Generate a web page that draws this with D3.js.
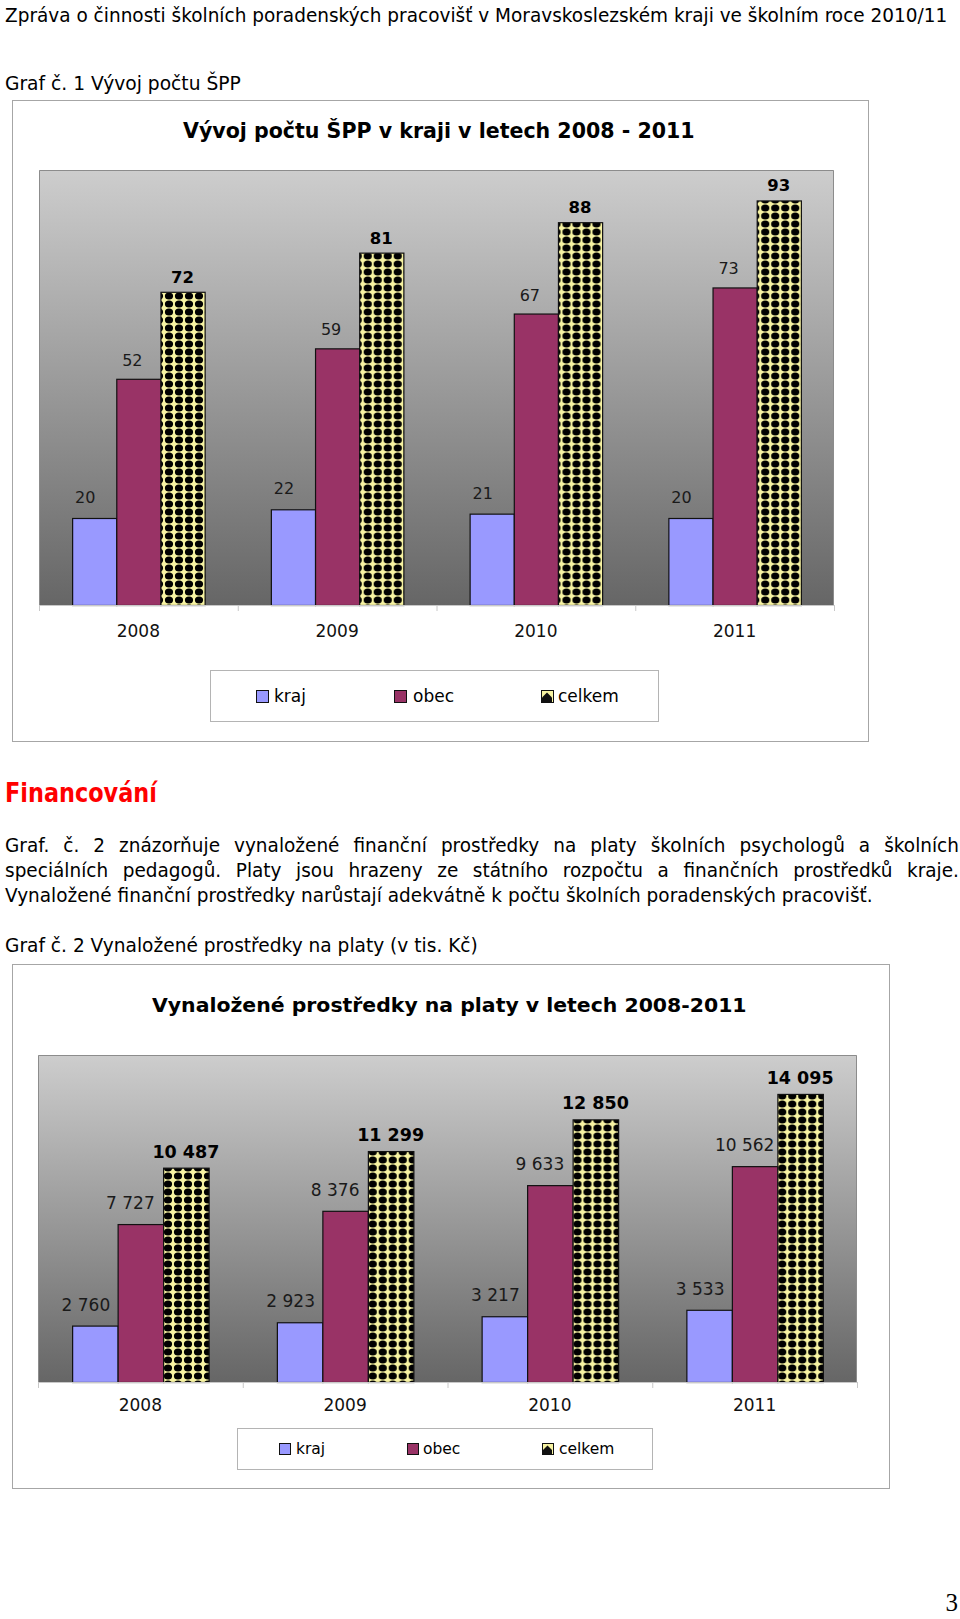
<!DOCTYPE html>
<html><head><meta charset="utf-8">
<script src="https://cdn.jsdelivr.net/npm/d3@7"></script>
<style>html,body{margin:0;padding:0;background:#fff;} svg{display:block;}</style>
</head><body>
<svg id="page" width="960" height="1619"></svg>
<script>
// ---------- DATA ----------
const years = ["2008", "2009", "2010", "2011"];
const seriesNames = ["kraj", "obec", "celkem"];
const chart1Kraj = [20, 22, 21, 20];
const chart1Obec = [52, 59, 67, 73];
const chart1Celkem = [72, 81, 88, 93];
const chart1Domain = [0, 100];
const chart2Kraj = [2760, 2923, 3217, 3533];
const chart2Obec = [7727, 8376, 9633, 10562];
const chart2Celkem = [10487, 11299, 12850, 14095];
const chart2Domain = [0, 16000];

const headerText = "Zpráva o činnosti školních poradenských pracovišť v Moravskoslezském kraji ve školním roce 2010/11";
const caption1 = "Graf č. 1 Vývoj počtu ŠPP";
const title1 = "Vývoj počtu ŠPP v kraji v letech 2008 - 2011";
const sectionTitle = "Financování";
const paragraph = [
  "Graf. č. 2 znázorňuje vynaložené finanční prostředky na platy školních psychologů a školních",
  "speciálních pedagogů. Platy jsou hrazeny ze státního rozpočtu a finančních prostředků kraje.",
  "Vynaložené finanční prostředky narůstají adekvátně k počtu školních poradenských pracovišť."
];
const caption2 = "Graf č. 2 Vynaložené prostředky na platy (v tis. Kč)";
const title2 = "Vynaložené prostředky na platy v letech 2008-2011";
const pageNumber = "3";

// ---------- SETUP ----------
const svg = d3.select("#page");
const colors = { kraj: "#9999ff", obec: "#993366", celkem: "url(#dots)" };
const defs = svg.append("defs");
const grad = defs.append("linearGradient").attr("id", "plotGrad")
  .attr("x1", 0).attr("y1", 0).attr("x2", 0).attr("y2", 1);
grad.append("stop").attr("offset", "0%").attr("stop-color", "#cdcdcd");
grad.append("stop").attr("offset", "100%").attr("stop-color", "#666666");
const pat = defs.append("pattern").attr("id", "dots").attr("patternUnits", "userSpaceOnUse")
  .attr("width", 10).attr("height", 8);
pat.append("rect").attr("width", 10).attr("height", 8).attr("fill", "#f7f3a2");
[[0,0],[10,0],[0,8],[10,8]].forEach(([cx,cy]) =>
  pat.append("ellipse").attr("cx", cx).attr("cy", cy).attr("rx", 4.1).attr("ry", 3.5).attr("fill", "#000"));

const FONT = "DejaVu Sans";

function measure(str, size, weight, family) {
  const t = svg.append("text").attr("font-family", family || FONT).attr("font-size", size)
    .attr("font-weight", weight || "normal").text(str);
  const w = t.node().getComputedTextLength(); t.remove(); return w;
}
// text squeezed horizontally (via transform) to occupy exactly width w
function fitText(parent, str, x, y, w, size, opts = {}) {
  const sx = w ? w / measure(str, size, opts.weight, opts.family) : 1;
  const g = parent.append("g").attr("transform", `translate(${x},${y}) scale(${sx},1)`);
  const t = g.append("text").attr("x", 0).attr("y", 0)
    .attr("font-family", opts.family || FONT)
    .attr("font-size", size).attr("font-weight", opts.weight || "normal")
    .attr("fill", opts.fill || "#000").text(str);
  if (opts.anchor) t.attr("text-anchor", opts.anchor);
  return t;
}
function justify(parent, str, x, y, w, size, sx) {
  const g = parent.append("g").attr("transform", `translate(${x},${y}) scale(${sx},1)`);
  const words = str.split(" ");
  const nodes = words.map(wd => g.append("text").attr("font-family", FONT).attr("font-size", size).attr("fill", "#000").text(wd));
  const widths = nodes.map(n => n.node().getComputedTextLength());
  const gap = (w / sx - d3.sum(widths)) / (words.length - 1);
  let cx = 0;
  nodes.forEach((n, i) => { n.attr("x", cx); cx += widths[i] + gap; });
}

// ---------- PAGE TEXT ----------
const TS = 20;
fitText(svg, headerText, 5, 22, 943, 19);
fitText(svg, caption1, 5, 90, 236, TS);
fitText(svg, sectionTitle, 5, 802, 152, 26, { weight: "bold", fill: "#ff0000" });
const sxPara = 868 / measure(paragraph[2], TS);
justify(svg, paragraph[0], 5, 852, 954, TS, sxPara);
justify(svg, paragraph[1], 5, 877, 954, TS, sxPara);
fitText(svg, paragraph[2], 5, 902, 868, TS);
fitText(svg, caption2, 5, 952, 473, TS);
fitText(svg, pageNumber, 958, 1611, null, 25, { family: "Liberation Serif", anchor: "end" });

// ---------- CHARTS ----------
function drawChart(cfg) {
  const g = svg.append("g");
  const [bx0, by0, bx1, by1] = cfg.box;
  g.append("rect").attr("x", bx0 + 0.5).attr("y", by0 + 0.5).attr("width", bx1 - bx0).attr("height", by1 - by0)
    .attr("fill", "#fff").attr("stroke", "#a6a6a6");
  fitText(g, cfg.title, cfg.titleX[0], cfg.titleY, cfg.titleX[1] - cfg.titleX[0], cfg.titleSize, { weight: "bold" });

  const [px0, py0, px1, py1] = cfg.plot;
  const x = d3.scaleBand().domain(years).range([px0, px1]).paddingInner(0).paddingOuter(0);
  const xi = d3.scaleBand().domain(seriesNames).range([0, x.bandwidth()]).paddingInner(0).paddingOuter(0.75);
  const y = d3.scaleLinear().domain(cfg.domain).range([py1, py0]);

  g.append("rect").attr("x", px0).attr("y", py0).attr("width", px1 - px0).attr("height", py1 - py0)
    .attr("fill", "url(#plotGrad)");
  g.append("path").attr("d", `M${px0 + 0.5},${py1}V${py0 + 0.5}H${px1 - 0.5}V${py1}`)
    .attr("fill", "none").attr("stroke", "#8c8c8c");

  const rows = years.map((yr, i) => ({
    year: yr,
    vals: seriesNames.map(s => ({ s, v: cfg.data[s][i] }))
  }));
  const grp = g.selectAll("g.cat").data(rows).join("g").attr("class", "cat")
    .attr("transform", d => `translate(${x(d.year)},0)`);
  grp.selectAll("rect").data(d => d.vals).join("rect")
    .attr("x", d => xi(d.s) + 0.5).attr("y", d => y(d.v) + 0.5)
    .attr("width", xi.bandwidth()).attr("height", d => y(0) - y(d.v))
    .attr("fill", d => colors[d.s]).attr("stroke", "#111").attr("stroke-width", 1.2);
  grp.selectAll("text").data(d => d.vals).join("text")
    .attr("x", d => xi(d.s) + xi.bandwidth() / 2 + cfg.labelDx[d.s])
    .attr("y", d => y(d.v) - cfg.labelDy[d.s])
    .attr("text-anchor", "middle").attr("font-family", FONT)
    .attr("font-size", d => d.s === "celkem" ? cfg.boldSize : cfg.labelSize)
    .attr("font-weight", d => d.s === "celkem" ? "bold" : "normal")
    .attr("fill", d => d.s === "celkem" ? "#000" : "#1a1a1a")
    .text(d => cfg.fmt(d.v));

  // axis
  const ax = g.append("g");
  ax.append("line").attr("x1", px0).attr("x2", px1).attr("y1", py1 + 0.5).attr("y2", py1 + 0.5).attr("stroke", "#c8c8c8");
  const bounds = years.map(d => x(d)).concat([px1]);
  ax.selectAll("line.tk").data(bounds).join("line").attr("class", "tk")
    .attr("x1", d => d + 0.5).attr("x2", d => d + 0.5).attr("y1", py1).attr("y2", py1 + 6).attr("stroke", "#c8c8c8");
  ax.selectAll("text").data(years).join("text")
    .attr("x", d => x(d) + x.bandwidth() / 2).attr("y", cfg.axisY)
    .attr("text-anchor", "middle").attr("font-family", FONT).attr("font-size", cfg.axisSize)
    .attr("fill", "#111").text(d => d);

  // legend
  const [lx0, ly0, lx1, ly1] = cfg.legend;
  g.append("rect").attr("x", lx0 + 0.5).attr("y", ly0 + 0.5).attr("width", lx1 - lx0).attr("height", ly1 - ly0)
    .attr("fill", "#fff").attr("stroke", "#b4b4b4");
  seriesNames.forEach((s, i) => {
    const m = cfg.markerSize;
    if (s === "celkem") {
      g.append("rect").attr("x", cfg.markerX[i] + 0.5).attr("y", cfg.markerY + 0.5).attr("width", m).attr("height", m)
        .attr("fill", "#f7f3a2").attr("stroke", "#111");
      g.append("path").attr("d", `M${cfg.markerX[i] + m/2},${cfg.markerY + 2.5}l${m/2 - 1},${m/2 - 1}v${m/2 - 1}h${-(m - 2)}v${-(m/2 - 1)}z`)
        .attr("fill", "#111");
    } else {
      g.append("rect").attr("x", cfg.markerX[i] + 0.5).attr("y", cfg.markerY + 0.5).attr("width", m).attr("height", m)
        .attr("fill", colors[s]).attr("stroke", "#111");
    }
    g.append("text").attr("x", cfg.textX[i]).attr("y", cfg.legendTextY)
      .attr("font-family", FONT).attr("font-size", cfg.legendSize).attr("fill", "#000").text(s);
  });
}

const fmtSpace = d3.formatLocale({ decimal: ",", thousands: " ", grouping: [3], currency: ["", ""] }).format(",d");

drawChart({
  box: [12, 100, 868, 741],
  title: title1, titleX: [183, 695], titleY: 138, titleSize: 21,
  plot: [39, 170, 834, 605],
  domain: chart1Domain,
  data: { kraj: chart1Kraj, obec: chart1Obec, celkem: chart1Celkem },
  fmt: d3.format("d"),
  labelSize: 16, boldSize: 16.5,
  labelDx: { kraj: -9, obec: -6, celkem: 0 },
  labelDy: { kraj: 15, obec: 13, celkem: 9 },
  axisY: 637, axisSize: 17,
  legend: [210, 670, 658, 721],
  markerX: [256, 394, 541], markerY: 690, markerSize: 12,
  textX: [274, 413, 558], legendTextY: 702, legendSize: 17
});

drawChart({
  box: [12, 964, 889, 1488],
  title: title2, titleX: [152, 747], titleY: 1012, titleSize: 20,
  plot: [38, 1055, 857, 1382],
  domain: chart2Domain,
  data: { kraj: chart2Kraj, obec: chart2Obec, celkem: chart2Celkem },
  fmt: fmtSpace,
  labelSize: 17, boldSize: 17.5,
  labelDx: { kraj: -9, obec: -10, celkem: 0 },
  labelDy: { kraj: 15, obec: 15, celkem: 10 },
  axisY: 1411, axisSize: 17,
  legend: [237, 1428, 652, 1469],
  markerX: [279, 407, 542], markerY: 1443, markerSize: 11,
  textX: [296, 423, 559], legendTextY: 1454, legendSize: 15.5
});
</script>
</body></html>
